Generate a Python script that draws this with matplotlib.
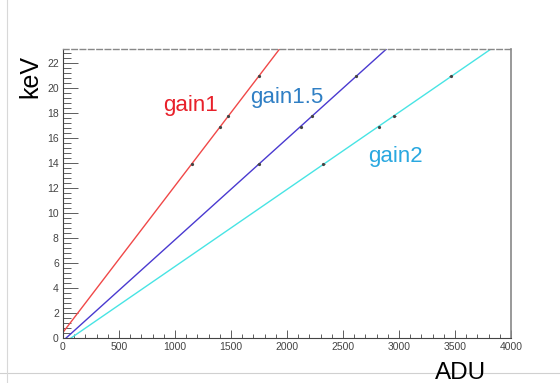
import numpy as np
import matplotlib
matplotlib.use("Agg")
import matplotlib.pyplot as plt
from matplotlib.ticker import MultipleLocator
from matplotlib.lines import Line2D

energies = [13.95, 16.85, 17.75, 20.95]
adu_gain1 = [1152, 1402, 1473, 1750]
adu_gain15 = [1748, 2125, 2223, 2616]
adu_gain2 = [2324, 2821, 2958, 3461]

series = [
    ("gain1", adu_gain1, "#f04848", "#e8202a", (163/560, 1-111/383)),
    ("gain1.5", adu_gain15, "#4a3ad0", "#2f7fc4", (250/560, 1-103/383)),
    ("gain2", adu_gain2, "#48e4e4", "#2aa8e0", (368/560, 1-162/383)),
]

plt.rcParams['font.family'] = ['Liberation Sans', 'DejaVu Sans']
fig = plt.figure(figsize=(5.6, 3.83), dpi=100)
ax = fig.add_axes([63/560, 1-338/383, (511-63)/560, (338-48.5)/383])
ax.set_xlim(0, 4000)
ax.set_ylim(0, 23.15)

for name, adu, lc, tc, pos in series:
    k, b = np.polyfit(adu, energies, 1)
    x0 = max(0.0, -b / k)
    x1 = (23.15 - b) / k
    xs = np.array([x0, x1])
    ax.plot(xs, k * xs + b, color=lc, lw=1.0, zorder=2)
    ax.errorbar(adu, energies, xerr=[12]*len(adu), fmt='o', ms=1.3, color='#444444',
                elinewidth=0.6, capsize=0, zorder=3)
    fig.text(pos[0], pos[1], name, color=tc, fontsize=16, ha='left', va='baseline')

ax.xaxis.set_major_locator(MultipleLocator(500))
ax.xaxis.set_minor_locator(MultipleLocator(100))
ax.yaxis.set_major_locator(MultipleLocator(2))
ax.yaxis.set_minor_locator(MultipleLocator(0.4))
ax.tick_params(axis='both', which='both', direction='in', labelsize=7.5, colors='#444444',
               top=False, right=False, width=0.6)
ax.tick_params(axis='y', which='major', length=11, pad=3)
ax.tick_params(axis='y', which='minor', length=6)
ax.tick_params(axis='x', which='major', length=6, pad=3)
ax.tick_params(axis='x', which='minor', length=3)

for s in ['left', 'bottom']:
    ax.spines[s].set_color('#444444')
    ax.spines[s].set_linewidth(0.8)
ax.spines['right'].set_color('#888888')
ax.spines['right'].set_linewidth(1.2)
ax.spines['top'].set_color('#888888')
ax.spines['top'].set_linestyle((0, (4, 2)))
ax.spines['top'].set_linewidth(1.0)

fig.text(30/560, 1-77/383, "keV", rotation=90, fontsize=18, ha='center', va='center')
fig.text(461/560, 1-379/383, "ADU", fontsize=17.5, ha='center', va='baseline')

fig.add_artist(Line2D([7/560, 7/560], [0, 1], color='#d8d8d8', lw=0.8))
fig.add_artist(Line2D([0, 1], [1-373/383, 1-373/383], color='#d0d0d0', lw=0.8, zorder=0))

fig.savefig("out.png", dpi=100)
